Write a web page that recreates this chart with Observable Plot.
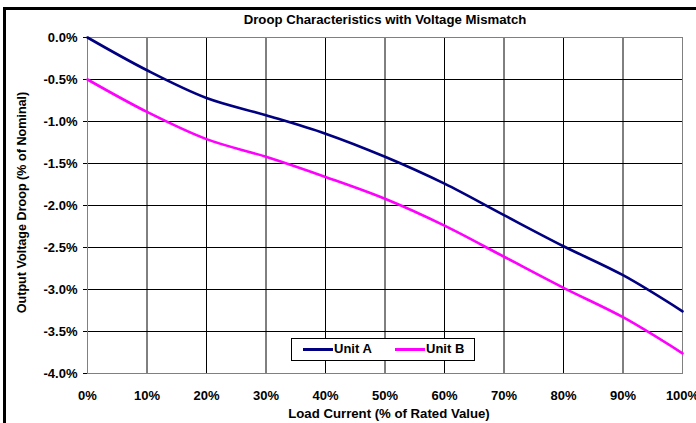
<!DOCTYPE html>
<html>
<head>
<meta charset="utf-8">
<script src="https://cdn.jsdelivr.net/npm/d3@7"></script>
<script src="https://cdn.jsdelivr.net/npm/@observablehq/plot@0.6"></script>
<style>
  html, body { margin: 0; padding: 0; background: #fff; }
  #wrap { position: relative; width: 696px; height: 423px; overflow: hidden; background: #fff; }
  #outer { position: absolute; left: 3px; top: 7px; width: 800px; height: 600px; border: 3px solid #000; box-sizing: border-box; pointer-events: none; }
  #legend { position: absolute; left: 291px; top: 338px; width: 184px; height: 23px; border: 1px solid #000; background: #fff; box-sizing: border-box;
    font-family: Arial, "Liberation Sans", sans-serif; font-weight: bold; font-size: 13px; color: #000; }
  #legend .ln { position: absolute; top: 9px; width: 30px; height: 3px; }
  #legend .tx { position: absolute; top: 2px; line-height: 16px; }
</style>
</head>
<body>
<div id="wrap">
  <div id="chart"></div>
  <div id="outer"></div>
  <div id="legend"></div>
</div>
<script>
const title = "Droop Characteristics with Voltage Mismatch";
const xLabel = "Load Current (% of Rated Value)";
const yLabel = "Output Voltage Droop (% of Nominal)";
const seriesNames = ["Unit A", "Unit B"];
const seriesColors = ["#000080", "#FF00FF"];
const loadPct = [0, 10, 20, 30, 40, 50, 60, 70, 80, 90, 100];
const unitA = [0, -0.39, -0.72, -0.925, -1.145, -1.42, -1.74, -2.115, -2.485, -2.83, -3.26];
const unitB = [-0.5, -0.886, -1.21, -1.42, -1.66, -1.92, -2.24, -2.61, -2.98, -3.33, -3.76];
const xTicks = [0, 10, 20, 30, 40, 50, 60, 70, 80, 90, 100];
const yTicks = [0, -0.5, -1, -1.5, -2, -2.5, -3, -3.5, -4];

const rows = [];
loadPct.forEach((x, i) => rows.push({x, y: unitA[i], unit: seriesNames[0]}));
loadPct.forEach((x, i) => rows.push({x, y: unitB[i], unit: seriesNames[1]}));

const font = "Arial, 'Liberation Sans', sans-serif";

const chart = Plot.plot({
  width: 696,
  height: 423,
  marginLeft: 87,
  marginRight: 14,
  marginTop: 37,
  marginBottom: 50,
  style: {fontFamily: font, fontSize: "13px", fontWeight: "bold", color: "#000", background: "transparent", overflow: "visible"},
  x: {domain: [0, 100]},
  y: {domain: [-4, 0]},
  color: {domain: seriesNames, range: seriesColors},
  marks: [
    Plot.gridX(xTicks, {stroke: "#000", strokeOpacity: 1}),
    Plot.gridY(yTicks, {stroke: "#000", strokeOpacity: 1}),
    Plot.frame({stroke: "#808080"}),
    Plot.axisY(yTicks, {tickSize: 4, tickPadding: 6, tickFormat: d => d.toFixed(1) + "%", label: null, fontSize: 13}),
    Plot.axisX(xTicks, {tickSize: 0, tickPadding: 17, tickFormat: d => d + "%", label: null, fontSize: 13}),
    Plot.line(rows, {x: "x", y: "y", z: "unit", stroke: "unit", strokeWidth: 2.6, curve: "catmull-rom"}),
    Plot.text([title], {frameAnchor: "top", dy: -18, lineAnchor: "middle", fontSize: 13.2, fontWeight: "bold"}),
    Plot.text([xLabel], {frameAnchor: "bottom", dx: 4, dy: 35, lineAnchor: "top", fontSize: 13.2, fontWeight: "bold"}),
    Plot.text([yLabel], {frameAnchor: "left", textAnchor: "middle", dx: -66, dy: -3, rotate: -90, lineAnchor: "middle", fontSize: 12.6, fontWeight: "bold"})
  ]
});
document.getElementById("chart").appendChild(chart);

const legend = document.getElementById("legend");
const lnLeft = [11, 103];
seriesNames.forEach((name, i) => {
  const ln = document.createElement("div");
  ln.className = "ln";
  ln.style.left = lnLeft[i] + "px";
  ln.style.background = seriesColors[i];
  legend.appendChild(ln);
  const tx = document.createElement("div");
  tx.className = "tx";
  tx.style.left = (lnLeft[i] + 31) + "px";
  tx.textContent = name;
  legend.appendChild(tx);
});
</script>
</body>
</html>
